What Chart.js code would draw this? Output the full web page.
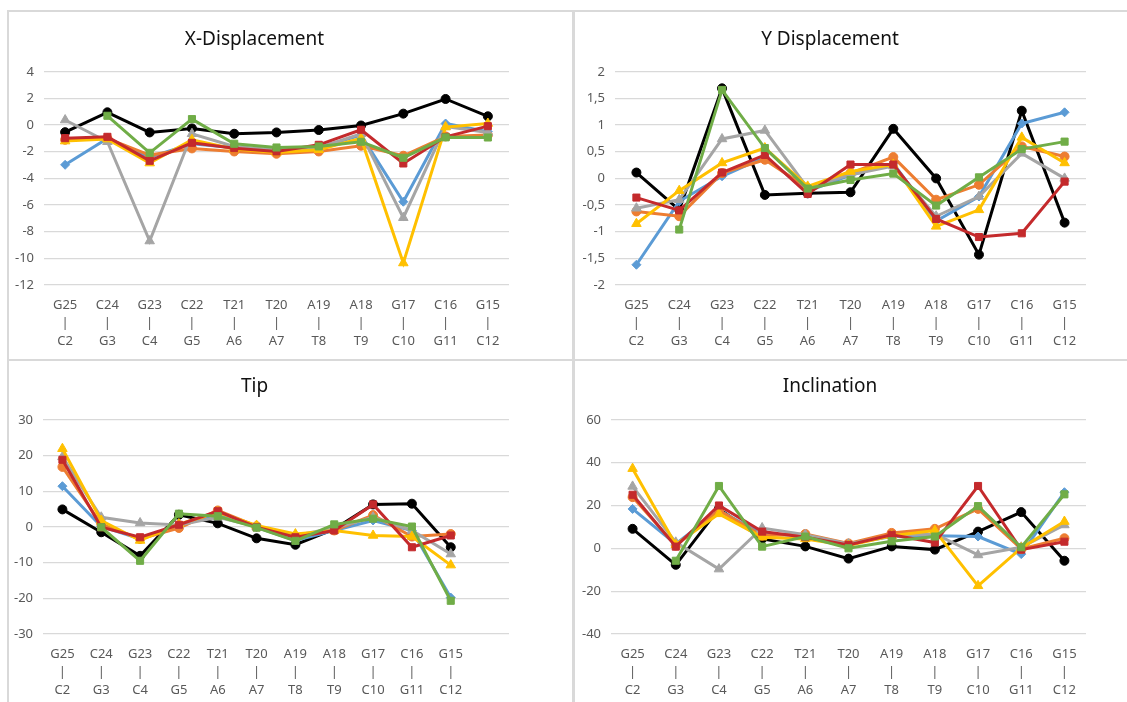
<!DOCTYPE html>
<html lang="en">
<head>
    <meta charset="UTF-8">
    <title>Displacement / Tip / Inclination</title>
    <script src="https://cdn.jsdelivr.net/npm/chart.js"></script>
    <style>
        body { margin: 0; background: #fff; }
        #page { position: relative; width: 1127px; height: 702px; overflow: hidden; }
        .ln { position: absolute; background: #d9d9d9; }
        canvas { position: absolute; }
    </style>
</head>
<body>
<div id="page">
    <div class="ln" style="left:7px;top:10px;width:1120px;height:2px"></div>
    <div class="ln" style="left:7px;top:10px;width:2px;height:692px"></div>
    <div class="ln" style="left:572px;top:10px;width:3px;height:692px"></div>
    <div class="ln" style="left:7px;top:359px;width:1120px;height:2px"></div>

    <canvas id="cX" style="left:0px;top:12px"></canvas>
    <canvas id="cY" style="left:574px;top:12px"></canvas>
    <canvas id="cTip" style="left:0px;top:361px"></canvas>
    <canvas id="cInc" style="left:574px;top:361px"></canvas>
</div>

<script>
    // base pairs on the category axis
    const topBases = ["G25", "C24", "G23", "C22", "T21", "T20", "A19", "A18", "G17", "C16", "G15"];
    const bottomBases = ["C2", "G3", "C4", "G5", "A6", "A7", "T8", "T9", "C10", "G11", "C12"];

    // X-Displacement
    const xBlack  = [-0.53, 0.96, -0.55, -0.25, -0.65, -0.55, -0.37, -0.03, 0.86, 1.96, 0.66];
    const xBlue   = [-2.98, -1.0, -2.4, -1.4, -1.7, -1.9, -1.7, -0.75, -5.75, 0.12, -0.5];
    const xOrange = [-1.1, -1.0, -2.25, -1.75, -1.98, -2.15, -1.98, -1.55, -2.3, -0.85, -0.75];
    const xGray   = [0.38, -1.25, -8.7, -0.65, -1.6, -1.85, -1.7, -0.65, -6.95, -0.1, -0.55];
    const xYellow = [-1.2, -1.05, -2.85, -1.1, -1.8, -2.05, -1.85, -1.0, -10.35, -0.15, 0.12];
    const xRed    = [-0.98, -0.88, -2.68, -1.33, -1.73, -1.98, -1.48, -0.35, -2.88, -0.88, -0.08];
    const xGreen  = [null, 0.7, -2.08, 0.45, -1.4, -1.68, -1.6, -1.25, -2.45, -0.92, -0.93];

    // Y Displacement
    const yBlack  = [0.11, -0.59, 1.69, -0.31, -0.28, -0.26, 0.93, 0.0, -1.43, 1.27, -0.83];
    const yBlue   = [-1.62, -0.43, 0.04, 0.4, -0.24, 0.06, 0.28, -0.8, -0.34, 1.03, 1.24];
    const yOrange = [-0.62, -0.71, 0.1, 0.35, -0.18, 0.1, 0.4, -0.4, -0.12, 0.6, 0.41];
    const yGray   = [-0.56, -0.4, 0.74, 0.9, -0.18, 0.07, 0.23, -0.71, -0.34, 0.47, 0.0];
    const yYellow = [-0.85, -0.23, 0.29, 0.57, -0.15, 0.13, 0.26, -0.9, -0.59, 0.77, 0.29];
    const yRed    = [-0.36, -0.6, 0.11, 0.44, -0.29, 0.26, 0.26, -0.76, -1.1, -1.03, -0.06];
    const yGreen  = [null, -0.96, 1.66, 0.57, -0.19, -0.03, 0.09, -0.51, 0.02, 0.55, 0.69];

    // Tip
    const tBlack  = [4.9, -1.5, -8.1, 3.4, 1.0, -3.2, -5.0, -0.6, 6.3, 6.5, -5.7];
    const tBlue   = [11.4, 0.1, -3.4, 0.4, 3.7, -0.1, -3.8, -1.0, 1.8, -1.0, -19.8];
    const tOrange = [16.8, 0.8, -3.4, -0.3, 4.6, 0.2, -2.7, -1.0, 3.3, -2.7, -2.0];
    const tGray   = [19.6, 2.7, 1.1, 0.5, 2.7, 0.1, -2.4, -0.3, 2.7, -1.0, -7.6];
    const tYellow = [21.9, 1.8, -3.8, 0.8, 4.1, 0.4, -2.0, -1.0, -2.4, -2.7, -10.7];
    const tRed    = [18.8, -0.1, -2.9, 0.6, 4.4, -0.1, -2.9, -1.0, 6.3, -5.7, -2.4];
    const tGreen  = [null, -0.1, -9.5, 3.7, 3.0, -0.2, -3.9, 0.7, 2.3, 0.1, -20.7];

    // Inclination
    const iBlack  = [9.1, -7.7, 18.5, 4.4, 0.9, -4.8, 0.9, -0.6, 7.8, 16.9, -5.8];
    const iBlue   = [18.4, 2.0, 17.7, 6.7, 5.9, 2.0, 5.5, 5.9, 5.5, -2.7, 26.2];
    const iOrange = [23.9, 1.3, 17.7, 5.9, 6.7, 2.3, 7.2, 9.1, 18.4, -0.3, 4.7];
    const iGray   = [28.9, 2.8, -9.7, 9.5, 6.4, 2.0, 5.9, 6.7, -3.1, 0.5, 10.9];
    const iYellow = [37.2, 1.7, 16.1, 5.2, 4.4, 1.3, 5.9, 8.3, -17.5, 0.2, 12.5];
    const iRed    = [25.0, 0.8, 20.0, 7.8, 5.2, 1.6, 6.3, 2.7, 29.1, -0.6, 3.1];
    const iGreen  = [null, -5.8, 29.1, 0.8, 5.5, 0.0, 3.3, 5.5, 19.7, 0.5, 25.2];

    const labels = topBases.map((t, i) => [t, "|", bottomBases[i]]);

    // series style: [colour, point style, radius]; first one is drawn on top
    const styles = {
        green:  ["#70ad47", "rect", 5],
        red:    ["#c42a2c", "rect", 5],
        yellow: ["#ffc000", "triangle", 5.5],
        gray:   ["#a5a5a5", "triangle", 5.5],
        orange: ["#ed7d31", "circle", 4.5],
        blue:   ["#5b9bd5", "rectRot", 4.5],
        black:  ["#000000", "circle", 4.5]
    };

    function makeChart(id, title, cats, series, yMin, yMax, yStep, box, comma) {
        const canvas = document.getElementById(id);
        canvas.width = box.w;
        canvas.height = box.h;
        canvas.style.width = box.w + "px";
        canvas.style.height = box.h + "px";

        const datasets = Object.keys(styles).map(name => ({
            label: name,
            data: series[name],
            borderColor: styles[name][0],
            backgroundColor: styles[name][0],
            pointStyle: styles[name][1],
            pointRadius: styles[name][2],
            borderWidth: 3,
            pointBorderWidth: 1,
            tension: 0
        }));

        new Chart(canvas, {
            type: "line",
            data: { labels: cats, datasets: datasets },
            options: {
                responsive: false,
                animation: false,
                layout: { padding: { top: box.top, right: box.right, left: 0, bottom: 0 } },
                plugins: {
                    legend: { display: false },
                    tooltip: { enabled: false },
                    title: {
                        display: true,
                        text: title,
                        color: "#111",
                        font: { family: "'Noto Sans', sans-serif", size: 19, weight: "normal" },
                        padding: { top: 0, bottom: box.titleGap }
                    }
                },
                scales: {
                    x: {
                        offset: true,
                        grid: { display: false, drawTicks: false },
                        border: { display: false },
                        ticks: {
                            autoSkip: false,
                            maxRotation: 0,
                            padding: 11,
                            color: "#595959",
                            font: { family: "'Noto Sans', sans-serif", size: 13, lineHeight: 1.4 }
                        },
                        afterFit: s => { s.height = box.axisH; }
                    },
                    y: {
                        min: yMin,
                        max: yMax,
                        grid: { color: "#d9d9d9", lineWidth: 1.3, drawTicks: false },
                        border: { display: false },
                        ticks: {
                            stepSize: yStep,
                            padding: 10,
                            color: "#595959",
                            font: { family: "'Noto Sans', sans-serif", size: 13 },
                            callback: v => comma ? String(v).replace(".", ",") : v
                        },
                        afterFit: s => { s.width = box.axisW; }
                    }
                }
            }
        });
    }

    makeChart("cX", "X-Displacement", labels,
        { black: xBlack, blue: xBlue, orange: xOrange, gray: xGray, yellow: xYellow, red: xRed, green: xGreen },
        -12, 4, 2,
        { w: 530, h: 346, top: 16, right: 21, titleGap: 21, axisW: 44, axisH: 73 }, false);

    makeChart("cY", "Y Displacement", labels,
        { black: yBlack, blue: yBlue, orange: yOrange, gray: yGray, yellow: yYellow, red: yRed, green: yGreen },
        -2, 2, 0.5,
        { w: 526, h: 346, top: 16, right: 14, titleGap: 21, axisW: 41, axisH: 73 }, true);

    // the Tip chart has one empty category at the right end
    const tipLabels = labels.concat([""]);
    makeChart("cTip", "Tip", tipLabels,
        { black: tBlack, blue: tBlue, orange: tOrange, gray: tGray, yellow: tYellow, red: tRed, green: tGreen },
        -30, 30, 10,
        { w: 530, h: 341, top: 14, right: 21, titleGap: 22, axisW: 43, axisH: 68 }, false);

    makeChart("cInc", "Inclination", labels,
        { black: iBlack, blue: iBlue, orange: iOrange, gray: iGray, yellow: iYellow, red: iRed, green: iGreen },
        -40, 60, 20,
        { w: 526, h: 341, top: 14, right: 14, titleGap: 22, axisW: 37, axisH: 68 }, false);
</script>
</body>
</html>
